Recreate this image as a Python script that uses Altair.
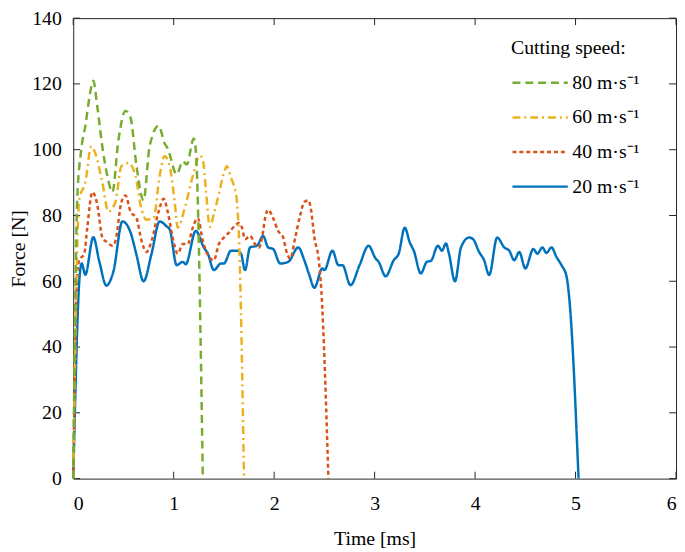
import altair as alt
import pandas as pd

# ---------------- data ----------------
speed_labels = ["80 m·s⁻¹", "60 m·s⁻¹", "40 m·s⁻¹", "20 m·s⁻¹"]
colors = ["#77AC30", "#EDB120", "#D95319", "#0072BD"]
dashes = [[8, 5], [8, 4, 2, 4], [4, 3], [1, 0]]

t_80 = [0, 0.04, 0.08, 0.125, 0.16, 0.20, 0.24, 0.29, 0.34, 0.39, 0.45, 0.52, 0.57,
        0.63, 0.70, 0.76, 0.85, 0.91, 0.94, 1.03, 1.09, 1.13, 1.20, 1.22, 1.29]
f_80 = [0, 85, 100, 108, 115.7, 121, 113, 100.9, 92, 87.1, 102.9, 111.8, 109.8,
        95, 84.6, 100.9, 107.3, 101.9, 100.4, 92.5, 96.5, 95.5, 103.4, 99.9, 0]

t_60 = [0, 0.06, 0.12, 0.18, 0.22, 0.29, 0.35, 0.42, 0.48, 0.55, 0.62, 0.67, 0.73,
        0.80, 0.86, 0.91, 0.96, 1.01, 1.04, 1.11, 1.19, 1.26, 1.29, 1.32, 1.36,
        1.40, 1.45, 1.50, 1.53, 1.57, 1.60, 1.63, 1.65, 1.70]
f_60 = [0, 85, 90, 101, 98.9, 90, 81.2, 84.1, 95, 96, 92, 83.2, 78.7,
        79.2, 92, 98, 95, 84.1, 76.3, 82.2, 92, 98.2, 97, 88, 76.5,
        80.5, 86.6, 93, 95, 91.5, 89, 84.1, 73.3, 0]

t_40 = [0, 0.04, 0.06, 0.11, 0.14, 0.19, 0.24, 0.29, 0.34, 0.39, 0.42, 0.48, 0.52,
        0.57, 0.63, 0.68, 0.73, 0.78, 0.85, 0.90, 0.94, 0.99, 1.04, 1.09, 1.14,
        1.19, 1.24, 1.29, 1.34, 1.40, 1.45, 1.50, 1.55, 1.62, 1.65, 1.68, 1.71,
        1.76, 1.81, 1.85, 1.88, 1.91, 1.94, 1.99, 2.04, 2.09, 2.12, 2.16, 2.21,
        2.26, 2.30, 2.34, 2.37, 2.40, 2.44, 2.47, 2.54]
f_40 = [0, 62, 66.4, 68.4, 76.3, 87.1, 83.2, 73.3, 71.8, 70.8, 72.3, 84.1, 86.1,
        81.2, 79.2, 72.3, 68.9, 72.3, 81.2, 85.1, 81.2, 73.3, 68.4, 71.3, 71.3,
        76.3, 79.2, 72.3, 68.0, 66.4, 71.3, 73.3, 74.8, 77.2, 77.7, 76.3, 72.8,
        73.8, 71.3, 70.3, 73.3, 79.2, 81.7, 79.2, 75.3, 73.3, 69.3, 66.9, 73.3,
        80.2, 84.1, 84.6, 81.2, 73.3, 67.4, 57, 0]

t_20 = [0, 0.065, 0.085, 0.12, 0.20, 0.26, 0.33, 0.40, 0.49, 0.57, 0.63, 0.70, 0.78,
        0.86, 0.93, 0.96, 1.03, 1.09, 1.12, 1.22, 1.30, 1.34, 1.40, 1.47, 1.50,
        1.57, 1.63, 1.67, 1.71, 1.76, 1.83, 1.89, 1.94, 1.99, 2.06, 2.14, 2.24,
        2.30, 2.35, 2.40, 2.48, 2.50, 2.58, 2.64, 2.68, 2.76, 2.85, 2.94, 3.01,
        3.04, 3.11, 3.19, 3.24, 3.30, 3.35, 3.39, 3.46, 3.52, 3.56, 3.63, 3.67,
        3.71, 3.74, 3.80, 3.86, 3.94, 3.98, 4.04, 4.09, 4.14, 4.22, 4.29, 4.34,
        4.39, 4.44, 4.50, 4.58, 4.62, 4.67, 4.71, 4.76, 4.81, 4.86, 4.91, 4.94, 5.03]
f_20 = [0, 62, 65.4, 62, 73.4, 66, 58.7, 63, 78.2, 74.9, 68, 60, 68.4,
        78.2, 76.7, 75.8, 64.9, 65.9, 65.2, 75.3, 70.3, 68.4, 63.4, 65.4, 65.4,
        69.3, 69.3, 68.4, 63.4, 70.3, 70.8, 73.8, 70.3, 69.8, 65.4, 65.9, 70.3,
        66.4, 61.9, 58, 63.9, 63.4, 69.3, 64.9, 64.9, 58.8, 64.9, 70.8, 66.9,
        65.9, 61.5, 66.4, 68.4, 76.3, 71.8, 69.3, 62.4, 65.9, 66.2, 70.8, 69.3,
        71.5, 68.4, 60, 70.3, 73.3, 72.8, 68.9, 66.4, 61.9, 73.3, 70.3, 69.3,
        66.4, 68.9, 63.9, 69.8, 68.4, 70.3, 68.6, 70.3, 67.4, 64.9, 61.5, 54, 0]

x_ticks = [0, 1, 2, 3, 4, 5, 6]
y_ticks = [0, 20, 40, 60, 80, 100, 120, 140]

# ---------------- build table ----------------
series = [("20 m·s⁻¹", t_20, f_20), ("40 m·s⁻¹", t_40, f_40),
          ("60 m·s⁻¹", t_60, f_60), ("80 m·s⁻¹", t_80, f_80)]
rows = []
for lab, ts, fs in series:
    for i, (t, f) in enumerate(zip(ts, fs)):
        rows.append({"speed": lab, "t": t, "F": f, "i": i})
df = pd.DataFrame(rows)

FONT = "Liberation Serif"
AXC = "#262626"
W, H = 610, 466
TL = 7

xs = alt.Scale(domain=[0, 6], nice=False, zero=False)
ys = alt.Scale(domain=[0, 140], nice=False)

leg = alt.Legend(
    title="Cutting speed:", orient="none", legendX=443, legendY=20,
    symbolType="stroke", symbolSize=3136, symbolStrokeWidth=2.5,
    labelFont=FONT, labelFontSize=20, labelColor="black", labelOffset=3,
    titleFont=FONT, titleFontSize=20, titleFontWeight="normal", titleColor="black",
    titlePadding=8, rowPadding=0, clipHeight=35, padding=0, symbolOffset=0,
)

lines = alt.Chart(df).mark_line(strokeWidth=2.5, interpolate="monotone").encode(
    x=alt.X("t:Q", scale=xs, axis=alt.Axis(values=x_ticks, format="d", title="Time [ms]",
                                            tickSize=0, labelPadding=15, titlePadding=16,
                                            grid=False, domain=False,
                                            labelFont=FONT, titleFont=FONT)),
    y=alt.Y("F:Q", scale=ys, axis=alt.Axis(values=y_ticks, format="d", title="Force [N]",
                                            tickSize=0, labelPadding=12, titlePadding=3,
                                            grid=False, domain=False,
                                            labelFont=FONT, titleFont=FONT)),
    color=alt.Color("speed:N", scale=alt.Scale(domain=speed_labels, range=colors), legend=leg),
    strokeDash=alt.StrokeDash("speed:N", scale=alt.Scale(domain=speed_labels, range=dashes),
                              legend=leg),
    order="i:Q",
)

xt = pd.DataFrame({"t": x_ticks})
yt = pd.DataFrame({"F": y_ticks})

bottom_ticks = alt.Chart(xt).mark_rule(color=AXC, strokeWidth=1).encode(
    x=alt.X("t:Q", scale=xs), y=alt.value(H), y2=alt.value(H - TL))
top_ticks = alt.Chart(xt).mark_rule(color=AXC, strokeWidth=1).encode(
    x=alt.X("t:Q", scale=xs), y=alt.value(0), y2=alt.value(TL))
left_ticks = alt.Chart(yt).mark_rule(color=AXC, strokeWidth=1).encode(
    y=alt.Y("F:Q", scale=ys), x=alt.value(0), x2=alt.value(TL))
right_ticks = alt.Chart(yt).mark_rule(color=AXC, strokeWidth=1).encode(
    y=alt.Y("F:Q", scale=ys), x=alt.value(W), x2=alt.value(W - TL))

chart = alt.layer(bottom_ticks, top_ticks, left_ticks, right_ticks, lines).properties(
    width=W, height=H,
    autosize=alt.AutoSizeParams(type="none"),
    padding={"left": 66, "top": 7, "right": 1, "bottom": 71},
).configure_view(stroke=AXC, strokeWidth=1).configure_axis(
    labelFont=FONT, labelFontSize=20, labelColor="black",
    titleFont=FONT, titleFontSize=20, titleFontWeight="normal", titleColor="black",
).configure_legend(labelFont=FONT, titleFont=FONT)

chart.save("out.html", embed_options={"renderer": "svg", "actions": False})
